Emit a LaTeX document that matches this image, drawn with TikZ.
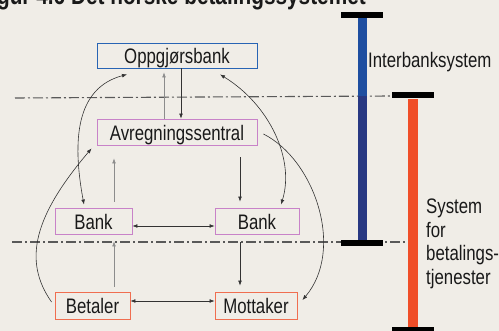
\documentclass[tikz,border=0pt]{standalone}
\usepackage{fontspec}
\setmainfont{Liberation Sans}[FakeStretch=0.8]
\usetikzlibrary{arrows.meta}

\definecolor{paper}{RGB}{240,237,231}
\definecolor{ink}{RGB}{25,25,25}
\definecolor{oppblue}{RGB}{40,100,180}
\definecolor{avrlilac}{RGB}{200,130,200}
\definecolor{kundeorange}{RGB}{240,110,80}
\definecolor{barblue}{RGB}{30,78,160}
\definecolor{bardeep}{RGB}{40,56,130}
\definecolor{barorange}{RGB}{240,78,40}

\begin{document}
\begin{tikzpicture}[x=1pt,y=-1pt,
    every node/.style={text=ink,font=\fontsize{21}{24}\selectfont},
    box/.style={draw,line width=0.9pt,inner sep=0pt,minimum height=26pt,text height=17pt,text depth=0pt},
    onehead/.style={-{Latex[length=5pt,width=3.8pt]}},
    twohead/.style={{Latex[length=5pt,width=3.8pt]}-{Latex[length=5pt,width=3.8pt]}},
    paleline/.style={draw=black!45,line width=0.6pt},
    darkline/.style={draw=black!80,line width=0.6pt},
    sepline/.style={draw=black!65,line width=1.1pt,dash pattern=on 10pt off 3pt on 2pt off 3pt}]

    % Frame and paper
    \useasboundingbox (0,0) rectangle (499,331);
    \fill[paper] (0,0) rectangle (499,331);
    \clip (0,0) rectangle (499,331);

    % Caption, cut at the top edge
    \node[anchor=base east,inner sep=0pt,font=\bfseries\fontsize{26}{29}\selectfont] (title) at (366,5)
        {Figur 4.6 Det norske betalingssystemet};

    % Dash-dot borders between the levels
    \draw[sepline] (15,98) -- (392,96);
    \draw[sepline] (12,242) -- (408,242);

    % The boxes
    \node[box,draw=oppblue,minimum width=160pt,minimum height=25pt] (opp) at (177,55.5) {Oppgjørsbank};
    \node[box,draw=avrlilac,minimum width=160pt] (avr) at (177,132) {Avregningssentral};
    \node[box,draw=avrlilac,minimum width=77pt] (bankL) at (93.5,221) {Bank};
    \node[box,draw=avrlilac,minimum width=84pt] (bankR) at (257,221) {Bank};
    \node[box,draw=kundeorange,minimum width=75pt,minimum height=27pt] (bet) at (92.5,305.5) {Betaler};
    \node[box,draw=kundeorange,minimum width=82pt,minimum height=27pt] (mot) at (256,305.5) {Mottaker};

    % Straight arrows
    \draw[paleline,onehead,shorten >=4pt] ([xshift=-13pt]avr.north) -- ([xshift=-13pt]opp.south);
    \draw[darkline,onehead] ([xshift=4pt]opp.south) -- ([xshift=4pt]avr.north);
    \draw[paleline,onehead,shorten <=6pt,shorten >=13pt] ([xshift=20.5pt]bankL.north) -- ([xshift=20.5pt]bankL.north |- avr.south);
    \draw[darkline,onehead,shorten <=12pt,shorten >=6pt] ([xshift=-17pt]bankR.north |- avr.south) -- ([xshift=-17pt]bankR.north);
    \draw[darkline,twohead] ([yshift=-5pt]bankL.east) -- ([yshift=-5pt]bankL.east -| bankR.west);
    \draw[paleline,onehead,shorten <=5pt,shorten >=7pt] ([xshift=21.5pt]bet.north) -- ([xshift=21.5pt]bet.north |- bankL.south);
    \draw[darkline,onehead,shorten <=8pt,shorten >=6pt] ([xshift=-17pt]bankR.south) -- ([xshift=-17pt]bankR.south |- mot.north);
    \draw[darkline,twohead] ([yshift=4.5pt]bet.east) -- ([yshift=4.5pt]bet.east -| mot.west);

    % Curved arrows
    \draw[darkline,twohead] ([shift={(-9.5pt,3pt)}]bankL.north) .. controls (72,140) and (76,88) .. ([shift={(-50pt,-6pt)}]opp.south);
    \draw[darkline,twohead] ([shift={(43pt,-6pt)}]opp.south) .. controls (270,105) and (295,160) .. ([shift={(24pt,3pt)}]bankR.north);
    \draw[darkline,onehead] ([shift={(-3pt,3.5pt)}]bet.west) .. controls (22,260) and (35,215) .. ([shift={(-5pt,-3pt)}]avr.south west);
    \draw[darkline,onehead] ([shift={(6pt,-2pt)}]avr.east) .. controls (315,160) and (345,250) .. ([shift={(5pt,5.5pt)}]mot.east);

    % Level bars
    \fill[barblue] (358,17) rectangle (367,96);
    \fill[bardeep] (358,96) rectangle (367,240);
    \fill[barorange] (408,99) rectangle (418,327);
    \foreach \xa/\ya in {341/12,341/240,392/92,392/327} {
        \fill[black] (\xa,\ya) rectangle (\xa+42,\ya+6.5);
    }

    % Level labels
    \node[anchor=base west,inner sep=0pt] (inter) at (368,67.3) {Interbanksystem};
    \node[anchor=base west,inner sep=0pt] (sys1) at (426,214) {System};
    \node[anchor=base west,inner sep=0pt] (sys2) at (426,237.5) {for};
    \node[anchor=base west,inner sep=0pt] (sys3) at (426,261) {betalings-};
    \node[anchor=base west,inner sep=0pt] (sys4) at (426,284.5) {tjenester};
\end{tikzpicture}
\end{document}
